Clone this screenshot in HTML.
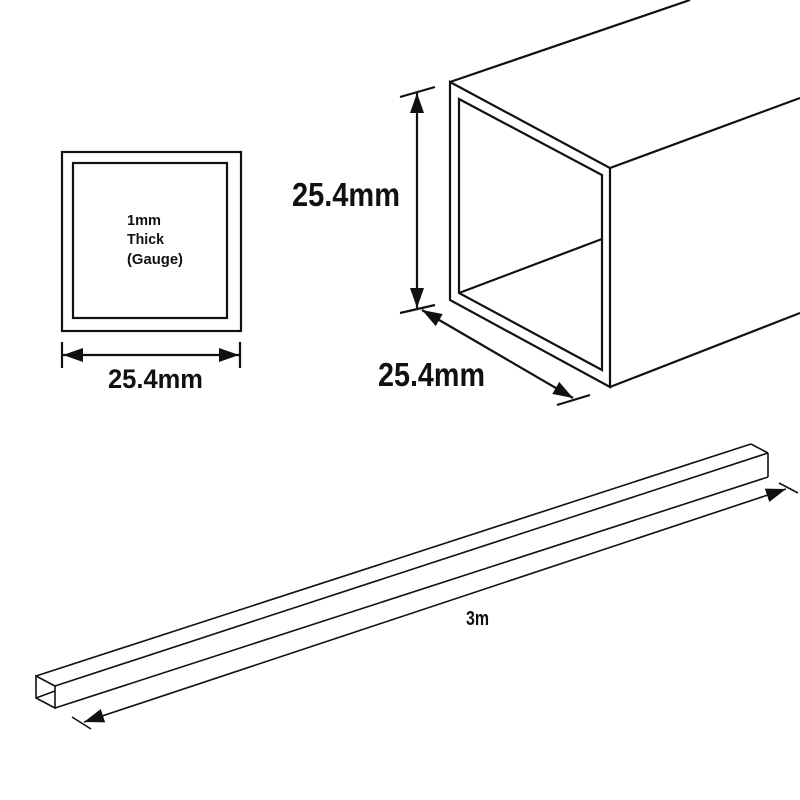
<!DOCTYPE html>
<html><head><meta charset="utf-8"><style>html,body{margin:0;padding:0;background:#fff}svg{display:block}</style></head>
<body>
<svg width="800" height="800" viewBox="0 0 800 800" xmlns="http://www.w3.org/2000/svg">
<defs>
<marker id="b" viewBox="0 0 20 14" refX="20" refY="7" markerWidth="20" markerHeight="14" orient="auto-start-reverse" markerUnits="userSpaceOnUse">
<path d="M0,0 L20,7 L0,14 z" fill="#111"/></marker>
</defs>
<g fill="none" stroke="#111" stroke-width="2.2" stroke-linejoin="miter">
<rect x="62" y="152" width="179" height="179"/>
<rect x="73" y="163" width="154" height="155"/>
<line x1="62" y1="342" x2="62" y2="368"/>
<line x1="240" y1="342" x2="240" y2="368"/>
<line x1="63" y1="355" x2="239" y2="355" marker-start="url(#b)" marker-end="url(#b)"/>
<polygon points="450,82 610,168 610,387 450,300"/>
<polygon points="459,99 602,175 602,370 459,293"/>
<line x1="459" y1="293" x2="602" y2="239"/>
<line x1="450" y1="82" x2="690" y2="0"/>
<line x1="610" y1="168" x2="800" y2="98"/>
<line x1="610" y1="387" x2="800" y2="313"/>
<line x1="400" y1="97" x2="435" y2="87"/>
<line x1="400" y1="313" x2="435" y2="305"/>
<line x1="417" y1="93" x2="417" y2="308" marker-start="url(#b)" marker-end="url(#b)"/>
<line x1="557" y1="405" x2="590" y2="395"/>
<line x1="422" y1="310" x2="573" y2="398" marker-start="url(#b)" marker-end="url(#b)"/>
</g>
<g fill="none" stroke="#111" stroke-width="1.6">
<polygon points="36,676 55,686 55,708 36,698"/>
<line x1="36" y1="698" x2="55" y2="691"/>
<line x1="36" y1="676" x2="751" y2="444"/>
<line x1="751" y1="444" x2="768" y2="453"/>
<line x1="55" y1="686" x2="768" y2="453"/>
<line x1="768" y1="453" x2="768" y2="477"/>
<line x1="55" y1="708" x2="768" y2="477"/>
<line x1="72" y1="717" x2="91" y2="729"/>
<line x1="779" y1="483" x2="798" y2="493"/>
<line x1="84" y1="722" x2="786" y2="489" marker-start="url(#b)" marker-end="url(#b)"/>
</g>
<g font-family="Liberation Sans, sans-serif" font-weight="bold" fill="#111">
<text x="127" y="225" font-size="15" textLength="34" lengthAdjust="spacingAndGlyphs">1mm</text>
<text x="127" y="244" font-size="15" textLength="37" lengthAdjust="spacingAndGlyphs">Thick</text>
<text x="127" y="264" font-size="15" textLength="56" lengthAdjust="spacingAndGlyphs">(Gauge)</text>
<text x="108" y="388" font-size="27" textLength="95" lengthAdjust="spacingAndGlyphs">25.4mm</text>
<text x="292" y="206" font-size="33" textLength="108" lengthAdjust="spacingAndGlyphs">25.4mm</text>
<text x="378" y="386" font-size="33" textLength="107" lengthAdjust="spacingAndGlyphs">25.4mm</text>
<text x="466" y="625" font-size="20" textLength="23" lengthAdjust="spacingAndGlyphs">3m</text>
</g>
</svg>
</body></html>
